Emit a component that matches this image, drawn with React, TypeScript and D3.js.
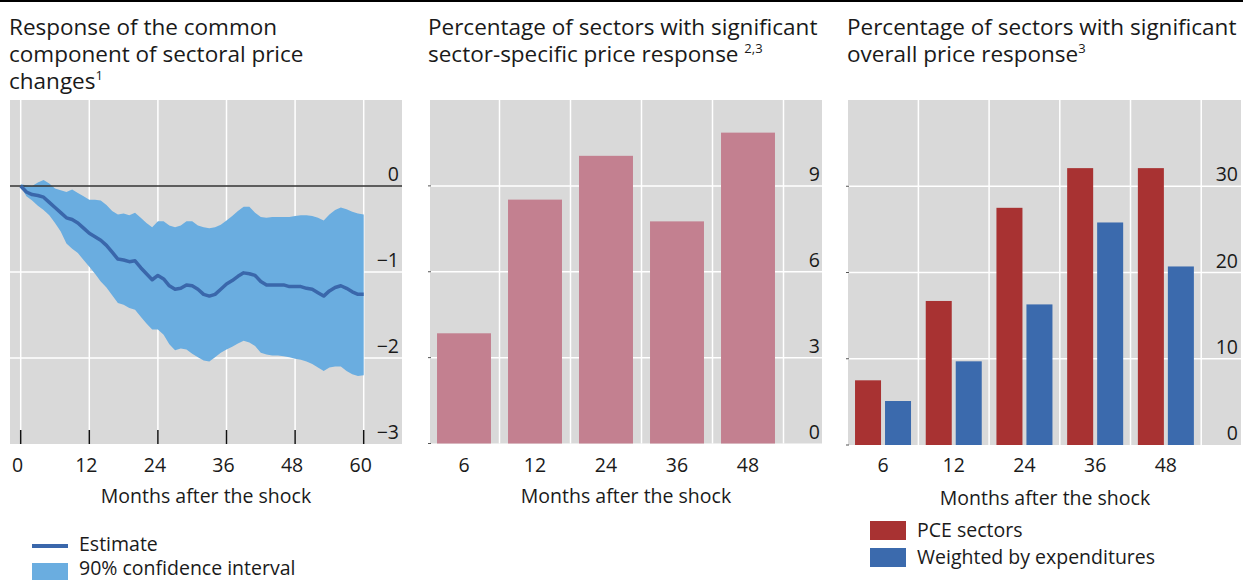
import React from "react";
import * as d3 from "d3";

// Panel 1: response of the common component (monthly, months 0..60)
const estimate = [0, -0.07, -0.10, -0.11, -0.13, -0.19, -0.25, -0.31, -0.37, -0.39, -0.43, -0.49, -0.55, -0.59, -0.63, -0.69, -0.77, -0.85, -0.86, -0.88, -0.87, -0.95, -1.02, -1.09, -1.04, -1.08, -1.16, -1.20, -1.19, -1.15, -1.16, -1.20, -1.26, -1.28, -1.26, -1.20, -1.14, -1.10, -1.05, -1.01, -1.02, -1.04, -1.11, -1.15, -1.15, -1.15, -1.15, -1.17, -1.17, -1.17, -1.19, -1.20, -1.24, -1.28, -1.22, -1.18, -1.16, -1.19, -1.23, -1.26, -1.26];
const ciUpper = [0.02, 0.01, 0.0, 0.04, 0.07, 0.03, -0.03, -0.05, -0.07, -0.04, -0.08, -0.12, -0.16, -0.16, -0.17, -0.22, -0.29, -0.33, -0.32, -0.34, -0.31, -0.37, -0.43, -0.48, -0.41, -0.41, -0.46, -0.48, -0.46, -0.41, -0.41, -0.46, -0.48, -0.49, -0.48, -0.45, -0.40, -0.35, -0.29, -0.24, -0.24, -0.31, -0.36, -0.37, -0.36, -0.36, -0.36, -0.36, -0.35, -0.34, -0.34, -0.35, -0.37, -0.40, -0.33, -0.28, -0.25, -0.27, -0.30, -0.32, -0.33];
const ciLower = [0, -0.12, -0.17, -0.23, -0.28, -0.34, -0.43, -0.53, -0.67, -0.73, -0.78, -0.86, -0.94, -1.02, -1.11, -1.18, -1.27, -1.36, -1.38, -1.42, -1.44, -1.52, -1.60, -1.67, -1.67, -1.73, -1.84, -1.91, -1.89, -1.90, -1.95, -1.99, -2.03, -2.04, -1.99, -1.94, -1.90, -1.87, -1.83, -1.80, -1.82, -1.86, -1.94, -1.96, -1.97, -1.97, -1.98, -1.99, -2.01, -2.02, -2.04, -2.07, -2.11, -2.15, -2.11, -2.10, -2.10, -2.15, -2.19, -2.21, -2.20];
const p1XTicks = [0, 12, 24, 36, 48, 60];
const p1YTicks = [0, -1, -2, -3];

// Panel 2
const horizons = ["6", "12", "24", "36", "48"];
const sectorSpecific = [3.85, 8.52, 10.05, 7.76, 10.86];
const p2YTicks = [0, 3, 6, 9];

// Panel 3
const pceSectors = [7.5, 16.7, 27.5, 32.1, 32.1];
const weightedByExp = [5.1, 9.7, 16.3, 25.8, 20.7];
const p3YTicks = [0, 10, 20, 30];

const FONT = "'Open Sans', 'Noto Sans', sans-serif";
const BG = "#d9d9d9";
const BAND = "#6aade0";
const LINE = "#3a67ab";
const PINK = "#c38090";
const RED = "#a83232";
const BLUE = "#3b6aad";
const TXT = "#1a1a1a";
const fmt = (v: number) => (v < 0 ? "\u2212" + Math.abs(v) : String(v));

export default function App() {
  // ---------- Panel 1 ----------
  const x1 = d3.scaleLinear().domain([0, 60]).range([20.7, 363.7]);
  const y1 = d3.scaleLinear().domain([-3, 1]).range([444, 100]);
  const area = d3
    .area<number>()
    .x((_, i) => x1(i))
    .y0((_, i) => y1(ciLower[i]))
    .y1((d) => y1(d));
  const line = d3
    .line<number>()
    .x((_, i) => x1(i))
    .y((d) => y1(d));

  // ---------- Panel 2 ----------
  const x2 = d3.scaleBand<string>().domain(horizons).range([428.5, 783.5]).paddingInner(0.24).paddingOuter(0.12);
  const y2 = d3.scaleLinear().domain([0, 12]).range([443.5, 100]);
  const step2 = x2.step();

  // ---------- Panel 3 ----------
  const x3 = d3.scaleBand<string>().domain(horizons).range([847.6, 1201.3]).paddingInner(0.208).paddingOuter(0.105);
  const sub = d3.scaleBand<string>().domain(["pce", "w"]).range([0, x3.bandwidth()]).paddingInner(0.133);
  const y3 = d3.scaleLinear().domain([0, 40]).range([445, 100]);
  const step3 = x3.step();

  const FS = 19.5;
  const tickLabel = (x: number, y: number, t: string, anchor: "start" | "middle" | "end" = "middle") => (
    <text x={x} y={y} textAnchor={anchor} fontSize={FS} fill={TXT} fontFamily={FONT}>
      {t}
    </text>
  );

  return (
    <svg width={1243} height={581} style={{ position: "absolute", left: 0, top: 0 }} fontFamily={FONT}>
      <rect x={0} y={0} width={1243} height={581} fill="#fff" />
      <line x1={0} x2={1243} y1={1} y2={1} stroke="#000" strokeWidth={2} />

      {/* Titles */}
      <g fontSize={22.5} fill={TXT}>
        <text x={9} y={35}>Response of the common</text>
        <text x={9} y={62}>component of sectoral price</text>
        <text x={9} y={89}>
          changes<tspan fontSize={13} dy={-9}>1</tspan>
        </text>
        <text x={428} y={35}>Percentage of sectors with significant</text>
        <text x={428} y={62}>
          sector-specific price response <tspan fontSize={13} dy={-9}>2,3</tspan>
        </text>
        <text x={847} y={35}>Percentage of sectors with significant</text>
        <text x={847} y={62}>
          overall price response<tspan fontSize={13} dy={-9}>3</tspan>
        </text>
      </g>

      {/* Panel 1 */}
      <rect x={10} y={100} width={392} height={344} fill={BG} />
      {p1XTicks.map((t) => (
        <line key={"v" + t} x1={x1(t)} x2={x1(t)} y1={100} y2={444} stroke="#fff" strokeWidth={1.5} />
      ))}
      {p1YTicks.filter((t) => t !== 0 && t !== -3).map((t) => (
        <line key={"h" + t} x1={10} x2={402} y1={y1(t)} y2={y1(t)} stroke="#fff" strokeWidth={1.5} />
      ))}
      <path d={area(ciUpper) || ""} fill={BAND} />
      <line x1={10} x2={402} y1={y1(0)} y2={y1(0)} stroke="#333" strokeWidth={1.5} />
      <path d={line(estimate) || ""} fill="none" stroke={LINE} strokeWidth={3.5} strokeLinejoin="round" />
      {p1XTicks.map((t) => (
        <line key={"tk" + t} x1={x1(t)} x2={x1(t)} y1={430} y2={444} stroke="#111" strokeWidth={1.5} />
      ))}
      {p1YTicks.map((t) => (
        <React.Fragment key={"yl" + t}>{tickLabel(399, y1(t) - 5, fmt(t), "end")}</React.Fragment>
      ))}
      {p1XTicks.map((t) => (
        <React.Fragment key={"xl" + t}>{tickLabel(x1(t) - 3, 472, String(t))}</React.Fragment>
      ))}
      {tickLabel(206, 503, "Months after the shock")}

      {/* Panel 2 */}
      <rect x={430} y={100} width={392} height={343.5} fill={BG} />
      {horizons.map((h) => {
        const gx = (x2(h) as number) + x2.bandwidth() + (step2 * 0.24) / 2;
        return <line key={"g2" + h} x1={gx} x2={gx} y1={100} y2={443.5} stroke="#fff" strokeWidth={1.5} />;
      })}
      {p2YTicks.filter((t) => t !== 0).map((t) => (
        <line key={"h2" + t} x1={430} x2={822} y1={y2(t)} y2={y2(t)} stroke="#fff" strokeWidth={1.5} />
      ))}
      {p2YTicks.map((t) => (
        <line key={"lt2" + t} x1={428} x2={431} y1={y2(t)} y2={y2(t)} stroke="#555" strokeWidth={1} />
      ))}
      {horizons.map((h, i) => (
        <rect key={"b2" + h} x={x2(h)} y={y2(sectorSpecific[i])} width={x2.bandwidth()} height={y2(0) - y2(sectorSpecific[i])} fill={PINK} />
      ))}
      {p2YTicks.map((t) => (
        <React.Fragment key={"yl2" + t}>{tickLabel(820, y2(t) - 5, fmt(t), "end")}</React.Fragment>
      ))}
      {horizons.map((h) => (
        <React.Fragment key={"xl2" + h}>{tickLabel((x2(h) as number) + x2.bandwidth() / 2, 472, h)}</React.Fragment>
      ))}
      {tickLabel(626, 503, "Months after the shock")}

      {/* Panel 3 */}
      <rect x={848} y={100} width={393} height={345} fill={BG} />
      {horizons.map((h) => {
        const gx = (x3(h) as number) + x3.bandwidth() + (step3 * 0.208) / 2;
        return <line key={"g3" + h} x1={gx} x2={gx} y1={100} y2={445} stroke="#fff" strokeWidth={1.5} />;
      })}
      {p3YTicks.filter((t) => t !== 0).map((t) => (
        <line key={"h3" + t} x1={848} x2={1241} y1={y3(t)} y2={y3(t)} stroke="#fff" strokeWidth={1.5} />
      ))}
      {p3YTicks.map((t) => (
        <line key={"lt3" + t} x1={846} x2={849} y1={y3(t)} y2={y3(t)} stroke="#555" strokeWidth={1} />
      ))}
      {horizons.map((h, i) => (
        <g key={"b3" + h} transform={`translate(${x3(h)},0)`}>
          <rect x={sub("pce")} y={y3(pceSectors[i])} width={sub.bandwidth()} height={y3(0) - y3(pceSectors[i])} fill={RED} />
          <rect x={sub("w")} y={y3(weightedByExp[i])} width={sub.bandwidth()} height={y3(0) - y3(weightedByExp[i])} fill={BLUE} />
        </g>
      ))}
      {p3YTicks.map((t) => (
        <React.Fragment key={"yl3" + t}>{tickLabel(1238, y3(t) - 5, fmt(t), "end")}</React.Fragment>
      ))}
      {horizons.map((h) => (
        <React.Fragment key={"xl3" + h}>{tickLabel((x3(h) as number) + x3.bandwidth() / 2, 472, h)}</React.Fragment>
      ))}
      {tickLabel(1045, 505, "Months after the shock")}

      {/* Legend panel 1 */}
      <line x1={32} x2={68} y1={546} y2={546} stroke={LINE} strokeWidth={4} />
      {tickLabel(79, 551, "Estimate", "start")}
      <rect x={32} y={563} width={36} height={17} fill={BAND} />
      {tickLabel(79, 575, "90% confidence interval", "start")}

      {/* Legend panel 3 */}
      <rect x={870} y={521} width={36} height={19} fill={RED} />
      {tickLabel(917, 537, "PCE sectors", "start")}
      <rect x={870} y={548} width={36} height={19} fill={BLUE} />
      {tickLabel(917, 564, "Weighted by expenditures", "start")}
    </svg>
  );
}
